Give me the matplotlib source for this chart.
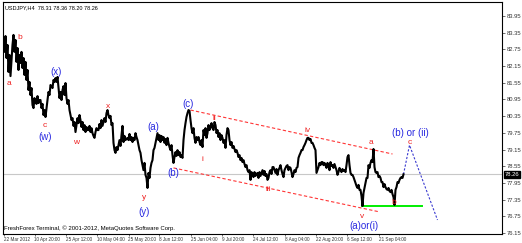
import matplotlib
matplotlib.use("Agg")
import matplotlib.pyplot as plt
import numpy as np

# USDJPY H4 - Schlusskurse
closes = [
    83.09, 82.66, 83.23, 82.44, 82.91, 81.94, 82.55, 81.79, 82.37, 82.91,
    83.27, 82.66, 83.09, 82.30, 82.80, 82.01, 82.55, 82.26, 82.66, 82.08,
    82.44, 81.83, 82.30, 81.65, 82.01, 81.29, 81.58, 81.11, 81.36, 80.75,
    80.64, 81.00, 80.86, 80.79, 81.07, 80.82, 80.93, 80.93, 80.64, 80.79,
    80.39, 80.57, 80.32, 80.64, 80.93, 81.22, 81.11, 81.47, 81.43, 81.36,
    81.65, 81.58, 81.72, 81.58, 81.76, 81.36, 81.00, 81.22, 80.93, 81.29,
    81.43, 81.11, 81.54, 81.00, 80.79, 80.93, 80.57, 80.39, 80.21, 80.28,
    80.00, 80.14, 79.78, 80.03, 80.28, 80.10, 80.39, 80.21, 79.96, 80.14,
    79.85, 80.03, 79.78, 79.96, 79.85, 79.85, 80.00, 79.78, 79.92, 79.74,
    79.64, 79.57, 79.78, 79.92, 79.85, 79.85, 80.07, 79.92, 80.21, 80.00,
    80.14, 80.28, 80.14, 80.46, 80.57, 80.39, 80.28, 80.36, 80.03, 80.10,
    79.39, 79.13, 79.03, 79.24, 79.13, 79.31, 79.49, 79.28, 79.67, 80.00,
    79.42, 79.64, 79.49, 79.53, 79.57, 79.49, 79.71, 79.49, 79.60, 79.42,
    79.57, 79.49, 79.74, 79.60, 79.49, 79.31, 79.13, 79.03, 78.77, 78.59,
    78.41, 78.67, 78.24, 78.13, 77.77, 78.31, 78.13, 78.49, 78.67, 78.77,
    79.13, 79.21, 79.39, 79.57, 79.74, 79.49, 79.67, 79.42, 79.64, 79.49,
    79.60, 79.39, 79.53, 79.31, 79.57, 79.39, 79.24, 79.13, 79.31, 78.95,
    78.67, 78.88, 79.06, 78.92, 79.13, 78.95, 79.06, 78.88, 78.95, 78.85,
    79.49, 79.85, 80.10, 80.32, 80.46, 80.57, 80.54, 80.21, 79.92, 79.74,
    79.92, 79.57, 79.39, 79.60, 79.49, 79.60, 79.42, 79.31, 79.49, 79.24,
    79.85, 79.67, 79.92, 79.57, 79.74, 80.03, 79.85, 79.96, 80.10, 79.92,
    79.85, 80.14, 80.03, 79.74, 79.85, 79.60, 79.74, 79.49, 79.67, 79.57,
    79.39, 79.49, 79.21, 79.67, 79.92, 79.85, 79.49, 79.31, 79.42, 79.21,
    79.28, 79.17, 79.06, 79.13, 79.03, 78.88, 78.95, 78.77, 78.85, 78.70,
    78.77, 78.63, 78.52, 78.59, 78.41, 78.34, 78.41, 78.06, 78.34, 78.24,
    78.16, 78.34, 78.20, 78.27, 78.31, 78.13, 78.34, 78.20, 78.31, 78.41,
    78.24, 78.38, 78.20, 78.27, 78.06, 78.13, 78.34, 78.41, 78.27, 78.52,
    78.52, 78.41, 78.31, 78.45, 78.24, 78.41, 78.49, 78.59, 78.41, 78.27,
    78.16, 78.41, 78.49, 78.56, 78.59, 78.41, 78.52, 78.49, 78.34, 78.16,
    78.27, 78.41, 78.34, 78.49, 78.52, 78.85, 78.95, 79.03, 79.13, 79.13,
    79.24, 79.31, 79.39, 79.49, 79.57, 79.57, 79.49, 79.53, 79.39, 79.39,
    79.31, 79.21, 79.13, 78.31, 78.41, 78.52, 78.67, 78.59, 78.70, 78.70,
    78.59, 78.67, 78.59, 78.49, 78.67, 78.59, 78.41, 78.70, 78.56, 78.59,
    78.49, 78.63, 78.52, 78.41, 78.24, 78.34, 78.49, 78.41, 78.34, 78.45,
    78.38, 78.41, 78.34, 78.59, 78.88, 78.95, 78.59, 78.31, 78.24, 78.24,
    78.16, 78.06, 77.95, 77.84, 77.77, 77.88, 77.70, 77.70, 77.48, 77.12,
    77.59, 77.77, 77.95, 78.13, 78.13, 78.59, 78.49, 78.67, 78.77, 78.70,
    79.17, 78.52, 78.34, 78.31, 78.34, 78.16, 78.20, 78.13, 77.98, 77.98,
    77.80, 77.91, 77.80, 77.73, 77.70, 77.77, 77.66, 77.62, 77.70, 77.55,
    77.44, 77.16, 77.70, 77.80, 77.98, 77.95, 78.06, 78.13, 78.16, 78.13,
    78.26,
]

preis_ticks = [83.95, 83.35, 82.75, 82.15, 81.55, 80.95, 80.35, 79.75,
               79.15, 78.55, 77.95, 77.35, 76.75, 76.15]
datum_pos = [0, 31, 62, 94, 125, 156, 188, 219, 250, 282, 313, 344, 376]
datum_labels = ["22 Mar 2012", "10 Apr 20:00", "25 Apr 12:00", "10 May 04:00",
                "25 May 20:00", "8 Jun 12:00", "25 Jun 04:00", "9 Jul 20:00",
                "24 Jul 12:00", "8 Aug 04:00", "22 Aug 20:00", "6 Sep 12:00",
                "21 Sep 04:00"]
letzter_kurs = 78.26

# Wellen-Beschriftungen (text, bar, preis)
rote_labels = [("b", 16, 83.16), ("a", 5, 81.51), ("c", 41, 80.00),
               ("w", 73, 79.39), ("x", 105, 80.68), ("y", 141, 77.44),
               ("ii", 211, 80.28), ("i", 199, 78.81), ("iii", 265, 77.70),
               ("iv", 304, 79.82), ("v", 359, 76.73), ("a", 367, 79.42),
               ("b", 390, 77.23), ("c", 406, 79.42)]
blaue_labels = [("(x)", 53, 81.94), ("(w)", 42, 79.60), ("(y)", 141, 76.91),
                ("(a)", 150, 79.96), ("(b)", 170, 78.31), ("(c)", 185, 80.79),
                ("(b) or (ii)", 407, 79.74), ("(a)or(i)", 360, 76.40)]

# Kanal, Unterstuetzung, Prognose
kanal_oben_x, kanal_oben_y = [187, 389], [80.57, 78.99]
kanal_unten_x, kanal_unten_y = [170, 376], [78.49, 76.91]
support_x, support_y = [359, 419], [77.12, 77.12]
prognose_x, prognose_y = [400, 406, 434], [78.26, 79.31, 76.62]

plt.rcParams['font.family'] = ['Liberation Sans', 'DejaVu Sans']

fig = plt.figure(figsize=(5.22, 2.43), dpi=100)
ax = fig.add_axes([3 / 522, 1 - 234 / 243, 499 / 522, 232 / 243])

ax.axhline(letzter_kurs, color="#c8c8c8", lw=0.8, zorder=1)
ax.plot(np.arange(len(closes)), closes, color="black", lw=1.5, zorder=3)

ax.plot(kanal_oben_x, kanal_oben_y, color="#ff3535", lw=0.8, ls=(0, (3, 2)), zorder=2)
ax.plot(kanal_unten_x, kanal_unten_y, color="#ff3535", lw=0.8, ls=(0, (3, 2)), zorder=2)
ax.plot(support_x, support_y, color="#00ee00", lw=1.4, zorder=2)
ax.plot(prognose_x, prognose_y, color="#3a3ad0", lw=0.8, ls=(0, (2, 1.5)), zorder=2)

for txt, bx, py in rote_labels:
    ax.text(bx, py, txt, color="#ee2020", fontsize=6, ha="center", va="center", zorder=4)
for txt, bx, py in blaue_labels:
    ax.text(bx, py, txt, color="#2828e0", fontsize=7, ha="center", va="center", zorder=4)

ax.set_xlim(-0.5, 498.5)
ax.set_ylim(76.115, 84.453)

ax.yaxis.tick_right()
ax.set_yticks(preis_ticks)
ax.set_yticklabels([f"{p:.2f}" for p in preis_ticks])
ax.tick_params(axis="y", length=2, width=0.5, pad=1.5, labelsize=4.2, colors="#333333")
ax.set_xticks(datum_pos)
ax.set_xticklabels(datum_labels, ha="left")
ax.tick_params(axis="x", length=1.5, width=0.5, pad=0.5, labelsize=3.3, colors="#333333")

for s in ax.spines.values():
    s.set_linewidth(0.8)
    s.set_color("black")

# aktueller Kurs auf der Preisachse
ax.text(1.005, letzter_kurs, f"{letzter_kurs:.2f}", transform=ax.get_yaxis_transform(),
        fontsize=4.2, color="white", va="center", ha="left",
        bbox=dict(boxstyle="square,pad=0.15", fc="black", ec="black"))

ax.text(0.004, 0.988, "USDJPY,H4  78.31 78.36 78.20 78.26", transform=ax.transAxes,
        fontsize=4.0, va="top", ha="left")
ax.text(0.002, 0.012, "FreshForex Terminal, \u00a9 2001-2012, MetaQuotes Software Corp.",
        transform=ax.transAxes, fontsize=4.3, va="bottom", ha="left")

fig.savefig("out.png", dpi=100)
